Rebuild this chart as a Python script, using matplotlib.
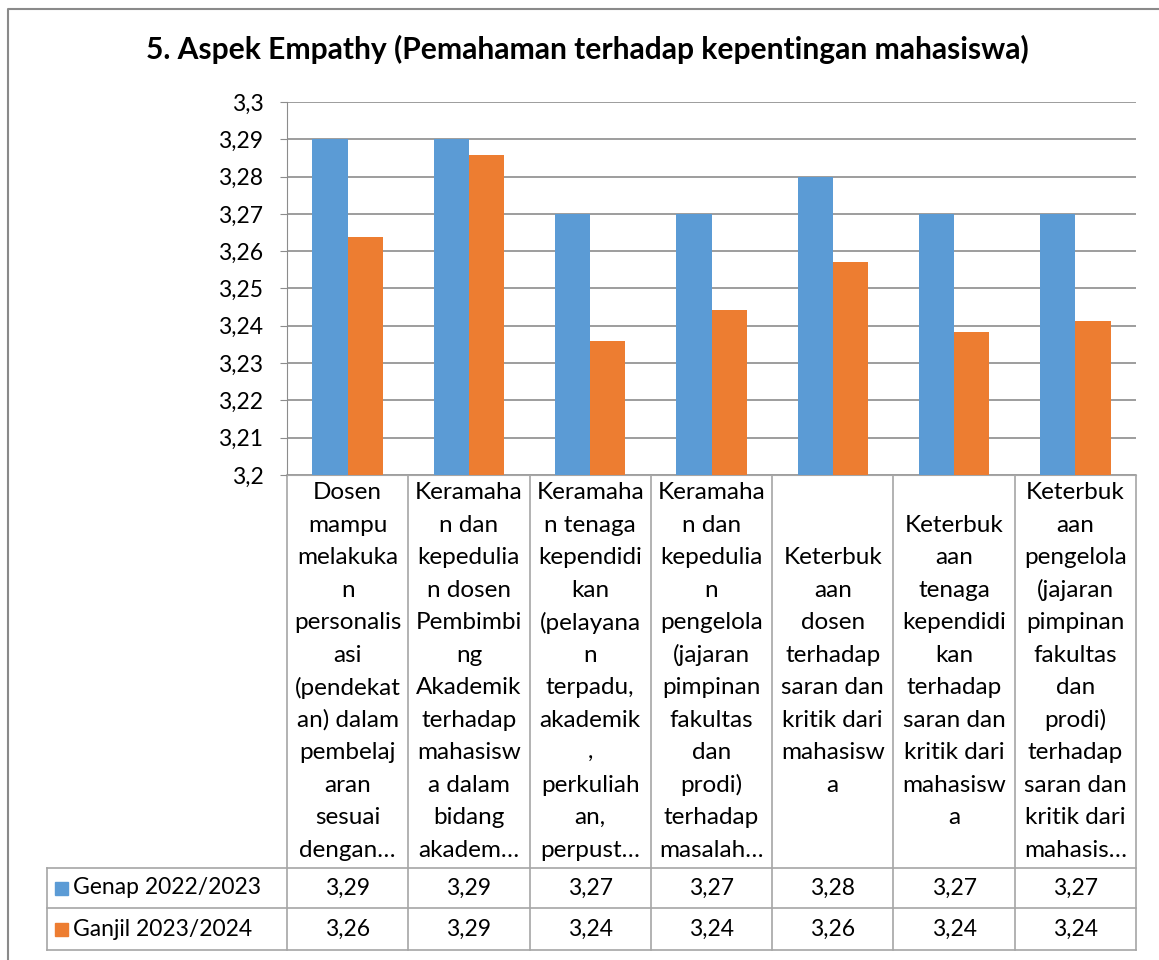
import numpy as np
import matplotlib.pyplot as plt
from matplotlib.patches import Rectangle

# ------------------------------------------------------------
# Data
# ------------------------------------------------------------
title = "5. Aspek Empathy (Pemahaman terhadap kepentingan mahasiswa)"

categories = [
    ["Dosen", "mampu", "melakuka", "n", "personalis", "asi", "(pendekat",
     "an) dalam", "pembelaj", "aran", "sesuai", "dengan…"],
    ["Keramaha", "n dan", "kepedulia", "n dosen", "Pembimbi", "ng",
     "Akademik", "terhadap", "mahasisw", "a dalam", "bidang", "akadem…"],
    ["Keramaha", "n tenaga", "kependidi", "kan", "(pelayana", "n",
     "terpadu,", "akademik", ",", "perkuliah", "an,", "perpust…"],
    ["Keramaha", "n dan", "kepedulia", "n", "pengelola", "(jajaran",
     "pimpinan", "fakultas", "dan", "prodi)", "terhadap", "masalah…"],
    ["Keterbuk", "aan", "dosen", "terhadap", "saran dan", "kritik dari",
     "mahasisw", "a"],
    ["Keterbuk", "aan", "tenaga", "kependidi", "kan", "terhadap",
     "saran dan", "kritik dari", "mahasisw", "a"],
    ["Keterbuk", "aan", "pengelola", "(jajaran", "pimpinan", "fakultas",
     "dan", "prodi)", "terhadap", "saran dan", "kritik dari", "mahasis…"],
]

series_names = ["Genap 2022/2023", "Ganjil 2023/2024"]
genap = [3.29, 3.29, 3.27, 3.27, 3.28, 3.27, 3.27]
ganjil = [3.2638, 3.2858, 3.2359, 3.2442, 3.2571, 3.2384, 3.2413]

colors = ["#5B9BD5", "#ED7D31"]

# ------------------------------------------------------------
# Layout (pixels)
# ------------------------------------------------------------
W, H = 1159, 960
L, R = 287, 1136
T, B = 102, 475
row1, row2, row3 = 868, 908, 950
leg_left = 47
grid_col = "#8c8c8c"
tab_col = "#a6a6a6"

plt.rcParams['font.family'] = ['Lato', 'DejaVu Sans']

fig = plt.figure(figsize=(W / 100, H / 100), dpi=100)

ax = fig.add_axes([L / W, 1 - B / H, (R - L) / W, (B - T) / H])
x = np.arange(len(genap))
w = 0.29
ax.bar(x - w / 2, genap, w, color=colors[0], zorder=3)
ax.bar(x + w / 2, ganjil, w, color=colors[1], zorder=3)

ax.set_xlim(-0.5, len(genap) - 0.5)
ax.set_ylim(3.2, 3.3)
yt = np.round(np.arange(3.2, 3.3001, 0.01), 2)
ax.set_yticks(yt)
ax.set_yticklabels([f"{v:.2f}".rstrip("0").replace(".", ",") for v in yt],
                   fontsize=16.5)
ax.tick_params(axis="y", length=5, color=grid_col, pad=12)
ax.set_xticks([])
ax.grid(axis="y", color=grid_col, linewidth=1.2, zorder=0)
for s in ["top", "right"]:
    ax.spines[s].set_visible(False)
ax.spines["left"].set_color(grid_col)
ax.spines["bottom"].set_color(tab_col)

# ------------------------------------------------------------
# Overlay for table, title and frame (pixel coordinates)
# ------------------------------------------------------------
ov = fig.add_axes([0, 0, 1, 1], zorder=-1)
ov.set_xlim(0, W)
ov.set_ylim(H, 0)
ov.axis("off")

# outer frame
ov.plot([8, 8, W + 5], [H + 5, 9, 9], color="#8a8a8a", linewidth=1.5)

ov.text((145 + 1030) / 2, 49, title, ha="center", va="center",
        fontsize=21.6, fontweight="bold")

cw = (R - L) / len(genap)

# table lines
lw = 1.2
for i in range(len(genap) + 1):
    xx = L + i * cw
    ov.plot([xx, xx], [B, row3], color=tab_col, linewidth=lw)
ov.plot([leg_left, leg_left], [row1, row3], color=tab_col, linewidth=lw)
for yy in [row1, row2, row3]:
    ov.plot([leg_left, R], [yy, yy], color=tab_col, linewidth=lw)

# category labels
yc = (B + row1) / 2
step = 32.5
for i, lines in enumerate(categories):
    xc = L + (i + 0.5) * cw
    n = len(lines)
    for j, line in enumerate(lines):
        ov.text(xc, yc + (j - (n - 1) / 2) * step, line, ha="center",
                va="center", fontsize=17.5)

# value rows with legend keys
for r, (name, vals, c) in enumerate(zip(series_names, [genap, ganjil], colors)):
    yr = (row1 + row2) / 2 if r == 0 else (row2 + row3) / 2
    ov.add_patch(Rectangle((55, yr - 6.5), 13, 13, color=c))
    ov.text(73, yr, name, ha="left", va="center", fontsize=16.5)
    for i, v in enumerate(vals):
        ov.text(L + (i + 0.5) * cw, yr, f"{v:.2f}".replace(".", ","),
                ha="center", va="center", fontsize=16.5)

fig.savefig("out.png", dpi=100)
